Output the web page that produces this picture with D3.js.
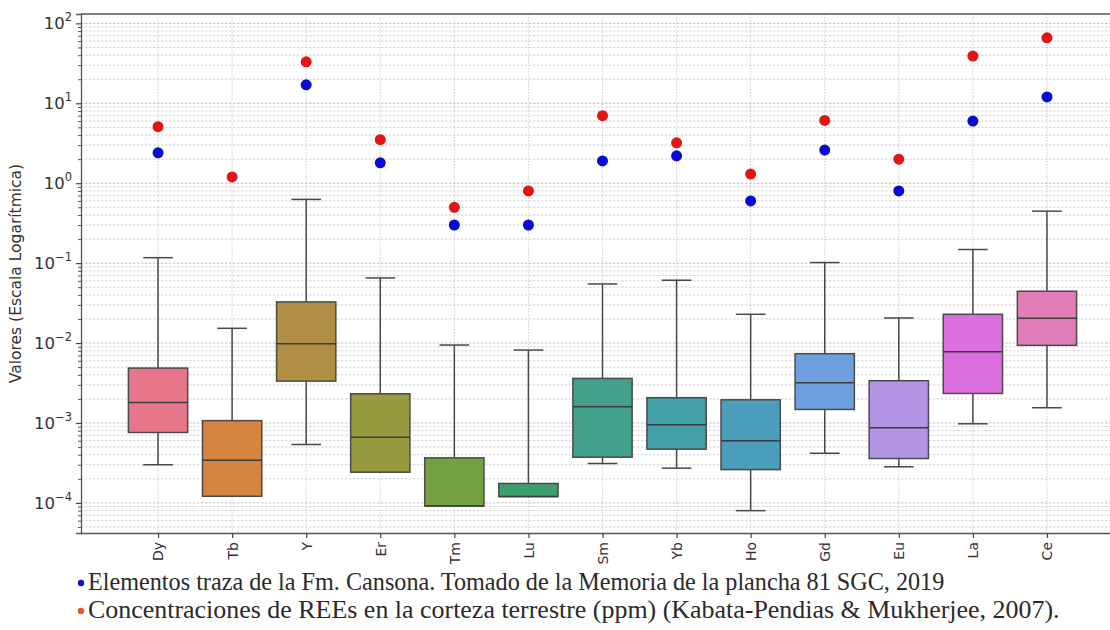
<!DOCTYPE html>
<html>
<head>
<meta charset="utf-8">
<script src="https://cdn.jsdelivr.net/npm/d3@7"></script>
<style>
  html, body { margin: 0; padding: 0; background: #fff; }
  svg { display: block; }
</style>
</head>
<body>
<svg id="chart" width="1110" height="630"></svg>
<script>
// Rare earth elements, box statistics (whiskers, quartiles, median)
const categories = ["Dy", "Tb", "Y", "Er", "Tm", "Lu", "Sm", "Yb", "Ho", "Gd", "Eu", "La", "Ce"];
const whiskerLow  = [3.0e-4, 1.21e-4, 5.38e-4, 2.42e-4, 9.16e-5, 1.2e-4, 3.11e-4, 2.72e-4, 8.0e-5, 4.18e-4, 2.83e-4, 9.77e-4, 1.55e-3];
const quartile1   = [7.6e-4, 1.21e-4, 3.34e-3, 2.42e-4, 9.16e-5, 1.2e-4, 3.73e-4, 4.7e-4, 2.61e-4, 1.476e-3, 3.59e-4, 2.34e-3, 9.36e-3];
const medians     = [1.81e-3, 3.42e-4, 9.8e-3, 6.64e-4, 9.16e-5, 1.2e-4, 1.6e-3, 9.49e-4, 5.98e-4, 3.19e-3, 8.7e-4, 7.8e-3, 0.0204];
const quartile3   = [4.86e-3, 1.07e-3, 0.0327, 2.32e-3, 3.66e-4, 1.75e-4, 3.61e-3, 2.07e-3, 1.95e-3, 7.36e-3, 3.38e-3, 0.0229, 0.0445];
const whiskerHigh = [0.117, 0.0153, 0.627, 0.0653, 9.44e-3, 8.17e-3, 0.0549, 0.0611, 0.0229, 0.1017, 0.0206, 0.148, 0.447];

// Reference concentrations
const cansona = [2.4, null, 17, 1.8, 0.3, 0.3, 1.9, 2.2, 0.6, 2.6, 0.8, 6.0, 12];   // Fm. Cansona
const crust   = [5.1, 1.2, 33, 3.5, 0.5, 0.8, 7.0, 3.2, 1.3, 6.1, 2.0, 39, 66];     // corteza terrestre

const boxColors = ["#e8768b", "#d5853f", "#b08f45", "#979a40", "#74a141", "#3f9e6e", "#43a08b",
                   "#41a0a7", "#4a9dbb", "#709fe0", "#b394e2", "#dc6fde", "#e07cb6"];

const yTickExponents = [-4, -3, -2, -1, 0, 1, 2];
const yLabel = "Valores (Escala Logarítmica)";
const legendItems = [
  { text: "Elementos traza de la Fm. Cansona. Tomado de la Memoria de la plancha 81 SGC, 2019", color: "#1010c8" },
  { text: "Concentraciones de REEs en la corteza terrestre (ppm) (Kabata-Pendias & Mukherjee, 2007).", color: "#e4552c" }
];

const svg = d3.select("#chart");
const plotLeft = 81, plotRight = 1124, plotTop = 14, plotBottom = 533;

const x = d3.scalePoint().domain(categories).range([plotLeft, plotRight]).padding(1.04);
const y = d3.scaleLog().domain([4.2e-5, 131]).range([plotBottom, plotTop]);
const step = x.step();
const boxW = step * 0.8;

const rows = categories.map((c, i) => ({
  c, lo: whiskerLow[i], q1: quartile1[i], med: medians[i], q3: quartile3[i], hi: whiskerHigh[i],
  color: boxColors[i], blue: cansona[i], red: crust[i]
}));

// Grid: minor and major horizontal lines, vertical lines at categories
const majorVals = yTickExponents.map(e => Math.pow(10, e));
const minorVals = [];
for (let e = -5; e <= 2; e++) for (let m = 2; m <= 9; m++) {
  const v = m * Math.pow(10, e);
  if (v > y.domain()[0] && v < y.domain()[1]) minorVals.push(v);
}
const grid = svg.append("g");
grid.selectAll("line.minor").data(minorVals).join("line")
  .attr("x1", plotLeft).attr("x2", plotRight)
  .attr("y1", d => y(d)).attr("y2", d => y(d))
  .attr("stroke", "#c0c0c0").attr("stroke-width", 0.7).attr("stroke-dasharray", "2.5,1.5");
grid.selectAll("line.major").data(majorVals).join("line")
  .attr("x1", plotLeft).attr("x2", plotRight)
  .attr("y1", d => y(d)).attr("y2", d => y(d))
  .attr("stroke", "#b0b0b0").attr("stroke-width", 0.8).attr("stroke-dasharray", "2.5,1.5");
grid.selectAll("line.vert").data(categories).join("line")
  .attr("x1", d => x(d)).attr("x2", d => x(d))
  .attr("y1", plotTop).attr("y2", plotBottom)
  .attr("stroke", "#c4c4c4").attr("stroke-width", 0.8).attr("stroke-dasharray", "1.5,1.5");

// Boxes
const lineColor = "#484848";
const boxes = svg.append("g").selectAll("g").data(rows).join("g");
boxes.append("line")
  .attr("x1", d => x(d.c)).attr("x2", d => x(d.c))
  .attr("y1", d => y(d.q3)).attr("y2", d => y(d.hi))
  .attr("stroke", lineColor).attr("stroke-width", 1.5);
boxes.append("line")
  .attr("x1", d => x(d.c)).attr("x2", d => x(d.c))
  .attr("y1", d => y(d.q1)).attr("y2", d => y(d.lo))
  .attr("stroke", lineColor).attr("stroke-width", 1.5);
boxes.append("line")
  .attr("x1", d => x(d.c) - boxW / 4).attr("x2", d => x(d.c) + boxW / 4)
  .attr("y1", d => y(d.hi)).attr("y2", d => y(d.hi))
  .attr("stroke", lineColor).attr("stroke-width", 1.5);
boxes.filter(d => d.lo < d.q1).append("line")
  .attr("x1", d => x(d.c) - boxW / 4).attr("x2", d => x(d.c) + boxW / 4)
  .attr("y1", d => y(d.lo)).attr("y2", d => y(d.lo))
  .attr("stroke", lineColor).attr("stroke-width", 1.5);
boxes.append("rect")
  .attr("x", d => x(d.c) - boxW / 2).attr("width", boxW)
  .attr("y", d => y(d.q3)).attr("height", d => y(d.q1) - y(d.q3))
  .attr("fill", d => d.color).attr("stroke", "#4a4a4a").attr("stroke-width", 1.5);
boxes.append("line")
  .attr("x1", d => x(d.c) - boxW / 2).attr("x2", d => x(d.c) + boxW / 2)
  .attr("y1", d => y(d.med)).attr("y2", d => y(d.med))
  .attr("stroke", "#3c3c3c").attr("stroke-width", 1.5);

// Reference points
const pts = svg.append("g");
pts.selectAll("circle.blue").data(rows.filter(d => d.blue != null)).join("circle")
  .attr("cx", d => x(d.c)).attr("cy", d => y(d.blue)).attr("r", 5.5).attr("fill", "#0a0ad2");
pts.selectAll("circle.red").data(rows).join("circle")
  .attr("cx", d => x(d.c)).attr("cy", d => y(d.red)).attr("r", 5.5).attr("fill", "#e21414");

// Spines
svg.append("line").attr("x1", plotLeft).attr("x2", plotRight).attr("y1", plotTop).attr("y2", plotTop)
  .attr("stroke", "#555").attr("stroke-width", 1.3);
svg.append("line").attr("x1", plotRight).attr("x2", plotRight).attr("y1", plotTop).attr("y2", plotBottom)
  .attr("stroke", "#555").attr("stroke-width", 1.3);

// Y axis
const yAxis = svg.append("g").attr("transform", `translate(${plotLeft},0)`)
  .call(d3.axisLeft(y).tickValues(majorVals).tickSize(5).tickFormat(""));
yAxis.select(".domain").attr("stroke", "#555").attr("stroke-width", 1.3);
yAxis.selectAll(".tick line").attr("stroke", "#444").attr("stroke-width", 1.2);
const yMinor = svg.append("g").attr("transform", `translate(${plotLeft},0)`)
  .call(d3.axisLeft(y).tickValues(minorVals).tickSize(3).tickFormat(""));
yMinor.select(".domain").remove();
yMinor.selectAll(".tick line").attr("stroke", "#444").attr("stroke-width", 0.9);

const yLabels = svg.append("g").selectAll("text").data(yTickExponents).join("text")
  .attr("x", plotLeft - 9).attr("y", d => y(Math.pow(10, d)) + 6)
  .attr("text-anchor", "end")
  .style("font-family", "DejaVu Sans").attr("fill", "#333");
yLabels.append("tspan").attr("font-size", 16.5).text("10");
yLabels.append("tspan").attr("font-size", 11.5).attr("dy", -8).text(d => d < 0 ? "\u2212" + (-d) : String(d));

svg.append("text")
  .attr("transform", `translate(21,${(plotTop + plotBottom) / 2}) rotate(-90)`)
  .attr("text-anchor", "middle")
  .style("font-family", "DejaVu Sans").attr("font-size", 15.5).attr("fill", "#333")
  .text(yLabel);

// X axis
const xAxis = svg.append("g").attr("transform", `translate(0,${plotBottom})`)
  .call(d3.axisBottom(x).tickSize(5));
xAxis.select(".domain").attr("stroke", "#555").attr("stroke-width", 1.3)
  .attr("d", `M${plotLeft},0.5H${plotRight}`);
xAxis.selectAll(".tick line").attr("stroke", "#444").attr("stroke-width", 1.2);
xAxis.selectAll(".tick text")
  .style("font-family", "DejaVu Sans").attr("font-size", 14).attr("fill", "#333")
  .attr("text-anchor", "end")
  .attr("transform", "rotate(-90)")
  .attr("x", -9).attr("y", 0).attr("dy", "0.35em");

// Legend in a serif face; each note is sized to its own line width
const legendWidths = [857, 972];
const legend = svg.append("g").selectAll("g").data(legendItems).join("g")
  .attr("transform", (d, i) => `translate(0,${590 + i * 28})`);
legend.append("circle").attr("cx", 81).attr("cy", -7).attr("r", 3.2).attr("fill", d => d.color);
legend.append("text").attr("x", 88).attr("y", 0)
  .style("font-family", "'Liberation Serif', 'Times New Roman', serif")
  .attr("font-size", 21).attr("fill", "#2a2a2a")
  .text(d => d.text)
  .each(function (d, i) {
    const w = this.getComputedTextLength();
    if (w > 0) d3.select(this).attr("font-size", 21 * legendWidths[i] / w);
  });
</script>
</body>
</html>
